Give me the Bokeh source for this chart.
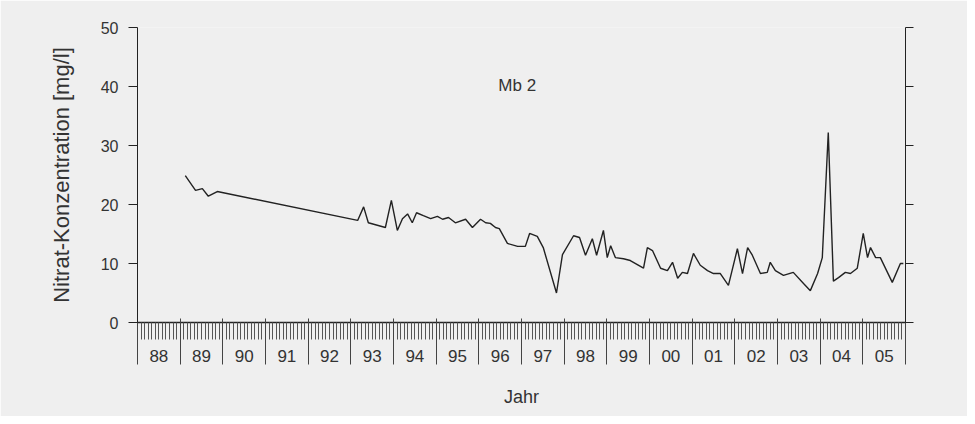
from bokeh.plotting import figure
from bokeh.models import LinearAxis, FixedTicker, Range1d, Label
from bokeh.embed import file_html
from bokeh.resources import INLINE

# ---- data (decimal year, nitrate mg/l) ----
dates = [1989.12, 1989.36, 1989.52, 1989.66, 1989.87,
         1993.16, 1993.30, 1993.41, 1993.81, 1993.95,
         1994.09, 1994.21, 1994.33, 1994.44, 1994.54, 1994.70, 1994.87,
         1995.03, 1995.15, 1995.29, 1995.45, 1995.69, 1995.85,
         1996.04, 1996.16, 1996.27, 1996.39, 1996.48, 1996.67, 1996.91,
         1997.09, 1997.19, 1997.37, 1997.51, 1997.82, 1997.96,
         1998.22, 1998.36, 1998.50, 1998.66, 1998.76, 1998.92,
         1999.01, 1999.09, 1999.20, 1999.39, 1999.55, 1999.86, 1999.95,
         2000.07, 2000.26, 2000.42, 2000.54, 2000.66, 2000.77, 2000.89,
         2001.03, 2001.19, 2001.36, 2001.50, 2001.66, 2001.85,
         2002.06, 2002.18, 2002.30, 2002.41, 2002.60, 2002.76, 2002.83, 2002.95,
         2003.14, 2003.37, 2003.61, 2003.77, 2003.94,
         2004.05, 2004.19, 2004.31, 2004.43, 2004.59, 2004.71, 2004.87,
         2005.01, 2005.11, 2005.18, 2005.30, 2005.41, 2005.69, 2005.88, 2005.95]
nitrat = [24.9, 22.4, 22.7, 21.4, 22.2,
          17.3, 19.6, 16.9, 16.1, 20.7,
          15.6, 17.6, 18.4, 16.9, 18.6, 18.1, 17.6,
          18.0, 17.5, 17.8, 16.9, 17.5, 16.1,
          17.5, 16.9, 16.8, 16.1, 15.9, 13.4, 12.9,
          12.9, 15.1, 14.6, 12.7, 5.0, 11.5,
          14.7, 14.4, 11.4, 14.2, 11.4, 15.6,
          11.0, 13.0, 11.0, 10.8, 10.5, 9.2, 12.7,
          12.2, 9.2, 8.8, 10.2, 7.5, 8.5, 8.3,
          11.7, 9.7, 8.8, 8.3, 8.3, 6.3,
          12.5, 8.3, 12.7, 11.4, 8.3, 8.5, 10.2, 8.8,
          8.0, 8.5, 6.6, 5.4, 8.3,
          11.0, 32.2, 7.0, 7.6, 8.5, 8.3, 9.2,
          15.1, 11.0, 12.7, 11.0, 11.0, 6.8, 10.0, 10.0]

year_starts = list(range(1988, 2007))
year_labels = ["88", "89", "90", "91", "92", "93", "94", "95", "96",
               "97", "98", "99", "00", "01", "02", "03", "04", "05"]
y_ticks = [0, 10, 20, 30, 40, 50]
station = "Mb 2"

FONT = "Liberation Sans"
TXT = "#333333"
BG = "#efefef"

p = figure(width=967, height=416,
           x_range=Range1d(year_starts[0], year_starts[-1]),
           y_range=Range1d(y_ticks[0], y_ticks[-1]),
           output_backend="svg", toolbar_location=None,
           x_axis_location=None, y_axis_location=None,
           min_border_left=137, min_border_right=62,
           min_border_top=27, min_border_bottom=94)
p.background_fill_color = BG
p.border_fill_color = BG
p.outline_line_color = None
for g in p.grid:
    g.visible = False

# left axis
yl = LinearAxis(ticker=FixedTicker(ticks=y_ticks), bounds=(0, 50),
                axis_label="Nitrat-Konzentration [mg/l]")
yl.major_tick_out = 9
yl.major_tick_in = 0
yl.minor_tick_out = 0
yl.major_label_standoff = 10
yl.major_label_text_font = FONT
yl.major_label_text_font_size = "16px"
yl.major_label_text_color = TXT
yl.axis_label_text_font = FONT
yl.axis_label_text_font_size = "22px"
yl.axis_label_text_font_style = "normal"
yl.axis_label_text_color = TXT
yl.axis_label_standoff = 24
yl.axis_line_color = "#222222"
yl.major_tick_line_color = "#222222"
p.add_layout(yl, "left")

# right axis (ticks only)
yr = LinearAxis(ticker=FixedTicker(ticks=y_ticks), bounds=(0, 50))
yr.major_tick_out = 8
yr.major_tick_in = 0
yr.minor_tick_out = 0
yr.major_label_overrides = {t: "" for t in y_ticks}
yr.axis_line_color = "#222222"
yr.major_tick_line_color = "#222222"
p.add_layout(yr, "right")

# bottom axis A: year labels + monthly ticks
mids = [y + 0.5 for y in year_starts[:-1]]
months = [year_starts[0] + m / 12 for m in range(12 * (len(year_starts) - 1) + 1)]
xa = LinearAxis(ticker=FixedTicker(ticks=mids, minor_ticks=months))
xa.major_label_overrides = {m: l for m, l in zip(mids, year_labels)}
xa.major_tick_out = 0
xa.major_tick_in = 0
xa.minor_tick_out = 17
xa.minor_tick_in = 0
xa.minor_tick_line_color = "#555555"
xa.major_label_standoff = 10
xa.major_label_text_font = FONT
xa.major_label_text_font_size = "17px"
xa.major_label_text_color = TXT
xa.axis_line_color = "#222222"
xa.axis_line_width = 1.5
p.add_layout(xa, "below")

# bottom axis B: year dividers + axis title
xb = LinearAxis(ticker=FixedTicker(ticks=year_starts), axis_label="Jahr")
xb.axis_line_color = None
xb.major_tick_in = 46
xb.major_tick_out = 0
xb.minor_tick_out = 0
xb.minor_tick_in = 0
xb.major_tick_line_color = "#444444"
xb.major_label_overrides = {t: "" for t in year_starts}
xb.major_label_standoff = 0
xb.axis_label_text_font = FONT
xb.axis_label_text_font_size = "18px"
xb.axis_label_text_font_style = "normal"
xb.axis_label_text_color = TXT
xb.axis_label_standoff = 22
p.add_layout(xb, "below")

p.line(dates, nitrat, line_color="#222222", line_width=1.4)

p.add_layout(Label(x=1996.9, y=40.2, text=station, text_align="center",
                   text_baseline="middle", text_font=FONT,
                   text_font_size="17px", text_color=TXT))

open("out.html", "w").write(file_html(p, INLINE))
